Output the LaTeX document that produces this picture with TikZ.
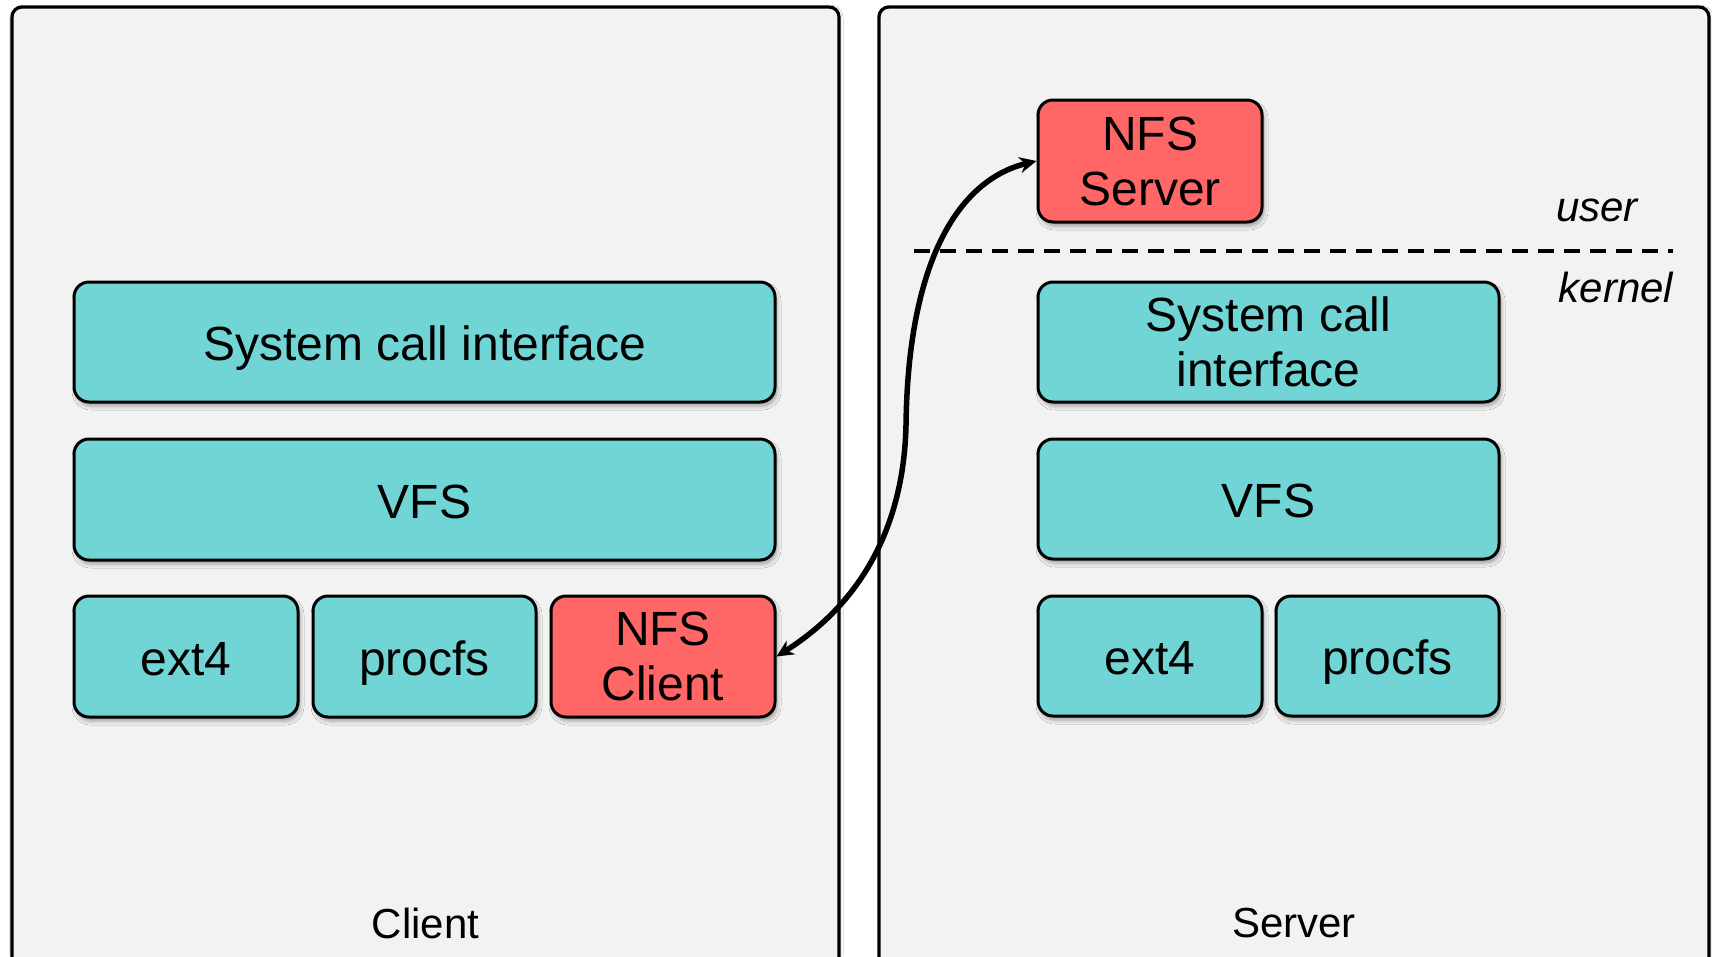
\documentclass[tikz,border=0pt]{standalone}
\usepackage{fontspec}
\setmainfont{Liberation Sans}
\usetikzlibrary{arrows.meta,shadows.blur}
\definecolor{panelgray}{HTML}{F2F2F2}
\definecolor{layerteal}{HTML}{70D5D4}
\definecolor{nfsred}{HTML}{FF6666}
\tikzset{
  panel/.style={draw=black, line width=3.2pt, fill=panelgray, rounded corners=10pt,
    blur shadow={shadow xshift=1pt, shadow yshift=-1pt, shadow blur radius=3pt, shadow opacity=25}},
  layer/.style={draw=black, line width=3pt, rounded corners=15pt, align=center,
    inner sep=0pt, font=\fontsize{48}{55}\selectfont,
    blur shadow={shadow xshift=2pt, shadow yshift=-4pt, shadow blur radius=4pt, shadow opacity=35}},
  oneline/.style={text height=37pt, text depth=0pt},
  tealbox/.style={layer, fill=layerteal},
  redbox/.style={layer, fill=nfsred},
  paneltitle/.style={font=\fontsize{42}{48}\selectfont},
  modelabel/.style={font=\fontsize{42}{48}\selectfont\itshape},
  link/.style={line width=5.5pt, {Stealth[length=17pt,width=16pt]}-{Stealth[length=17pt,width=16pt]}}
}
\begin{document}
\begin{tikzpicture}[x=1pt,y=-1pt]
\useasboundingbox (0,0) rectangle (1712,956);
\fill[white] (0,0) rectangle (1712,956);
\clip (0,0) rectangle (1712,956);

% machine panels
\draw[panel] (12,7) rectangle (839,968);
\draw[panel] (879,7) rectangle (1709,968);
\node[paneltitle] (clientlbl) at (425.5,923) {Client};
\node[paneltitle] (serverlbl) at (1294,923) {Server};

% client stack
\node[tealbox, oneline, minimum width=701pt, minimum height=120pt] (lsci) at (424.5,342) {System call interface};
\node[tealbox, oneline, minimum width=701pt, minimum height=121pt] (lvfs) at (424.5,499.5) {VFS};
\node[tealbox, oneline, minimum width=224pt, minimum height=121pt] (lext) at (186,656.5) {ext4};
\node[tealbox, oneline, minimum width=223pt, minimum height=121pt] (lproc) at (424.5,656.5) {procfs};
\node[redbox, minimum width=224pt, minimum height=121pt] (nfsc) at (663,656.5) {NFS\\Client};

% server stack
\node[redbox, minimum width=224pt, minimum height=122pt] (nfss) at (1150,161) {NFS\\Server};
\node[tealbox, minimum width=461pt, minimum height=120pt] (rsci) at (1268.5,342) {System call\\interface};
\node[tealbox, oneline, minimum width=461pt, minimum height=120pt] (rvfs) at (1268.5,499) {VFS};
\node[tealbox, oneline, minimum width=224pt, minimum height=120pt] (rext) at (1150,656) {ext4};
\node[tealbox, oneline, minimum width=223pt, minimum height=120pt] (rproc) at (1387.5,656) {procfs};

% user / kernel boundary
\coordinate (splitL) at (914,251);
\coordinate (splitR) at (1673,251);
\draw[line width=3.5pt, dash pattern=on 16pt off 10pt] (splitL) -- (splitR);
\node[modelabel] (userlbl) at (1597,210) {user};
\node[modelabel] (kernellbl) at (1616,287) {kernel};

% client <-> server link
\coordinate (bend) at (906,425);
\draw[link] (nfsc.east) .. controls (866,600) and (904,520) .. (bend)
  .. controls (908,262) and (958,180) .. (nfss.west);
\end{tikzpicture}
\end{document}
